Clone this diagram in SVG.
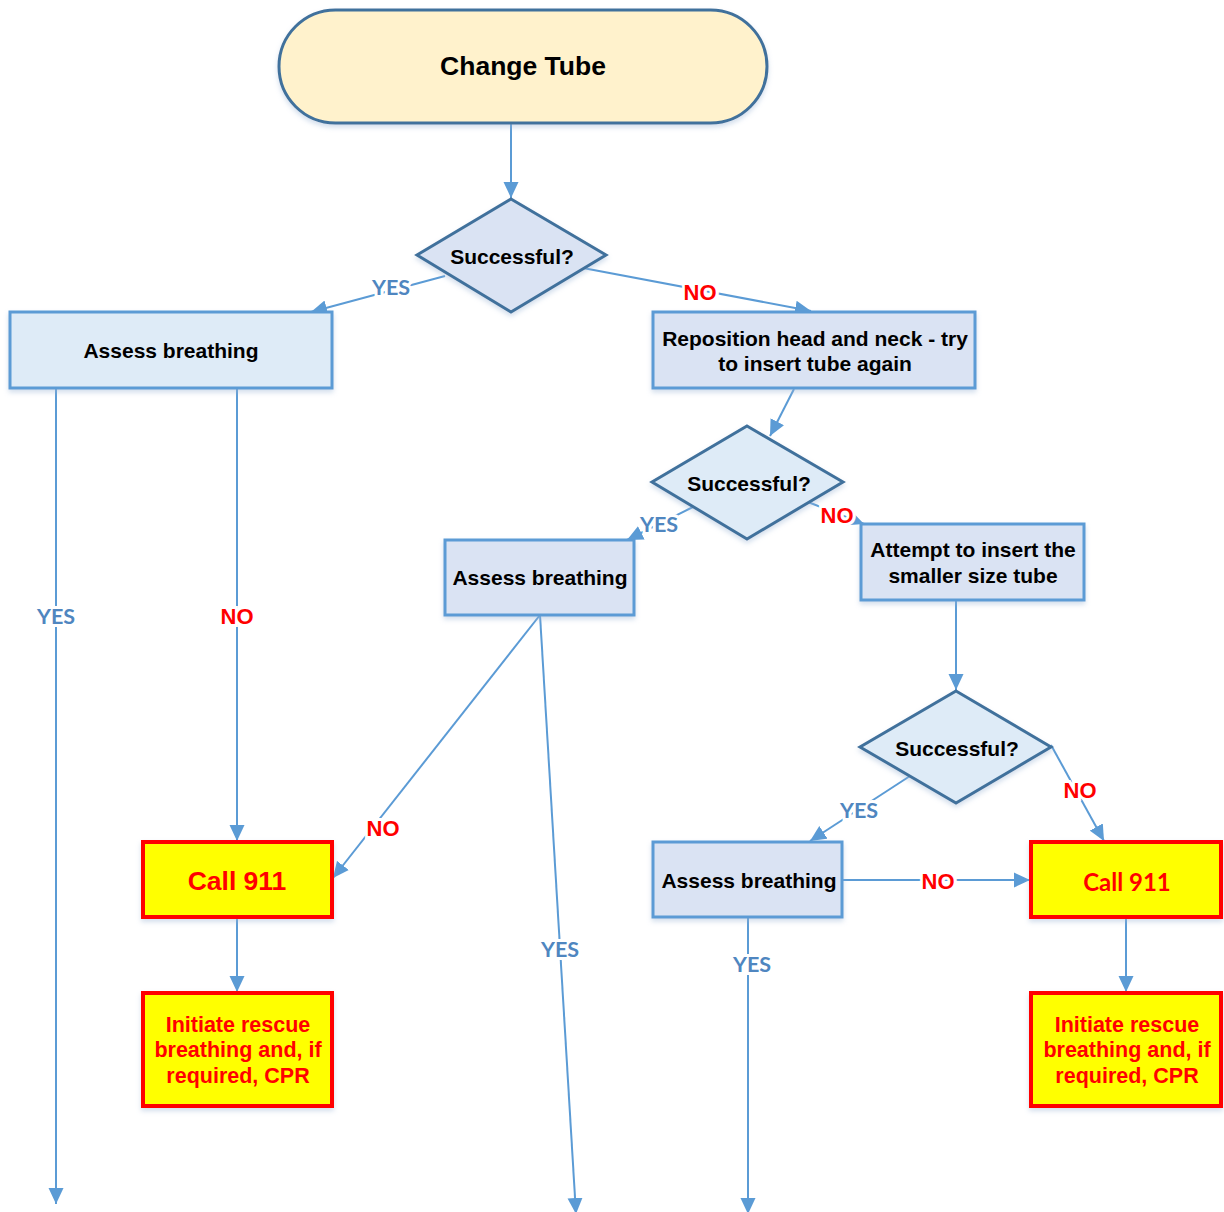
<svg xmlns="http://www.w3.org/2000/svg" width="1224" height="1212" viewBox="0 0 1224 1212">
<defs>
<marker id="ah" markerUnits="userSpaceOnUse" markerWidth="16" markerHeight="16" viewBox="0 0 16 16" refX="16" refY="8" orient="auto">
<path d="M0,0.5 L16,8 L0,15.5 Z" fill="#5B9BD5"/>
</marker>
<filter id="sh" x="-10%" y="-10%" width="120%" height="130%">
<feDropShadow dx="0" dy="3" stdDeviation="2.5" flood-color="#9DB6D6" flood-opacity="0.45"/>
</filter>
</defs>
<style>
.term{fill:#FFF2CC;stroke:#41719C;stroke-width:3}
.dia{stroke:#41719C;stroke-width:3}
.box{stroke:#5B9BD5;stroke-width:3}
.alert{fill:#FFFF00;stroke:#FF0000;stroke-width:4}
.t{font-family:"Liberation Sans",Arial,sans-serif;font-weight:bold;font-size:21px;fill:#000;text-anchor:middle;dominant-baseline:central}
.tr{font-family:"Liberation Sans",Arial,sans-serif;font-weight:bold;font-size:21.5px;fill:#FF0000;text-anchor:middle;dominant-baseline:central}
.c{fill:none;stroke:#5B9BD5;stroke-width:2}
.yes{font-family:Lato,"Open Sans",sans-serif;font-weight:bold;font-size:21.5px;fill:#4F86C0;text-anchor:middle;dominant-baseline:central;stroke:#fff;stroke-width:6;paint-order:stroke}
.no{font-family:"Liberation Sans",Arial,sans-serif;font-weight:bold;font-size:22px;fill:#FF0000;text-anchor:middle;dominant-baseline:central;stroke:#fff;stroke-width:6;paint-order:stroke}
</style>

<g id="connectors">
<line class="c" x1="511" y1="124" x2="511" y2="198" marker-end="url(#ah)"/>
<line class="c" x1="445" y1="276" x2="311" y2="312" marker-end="url(#ah)"/>
<line class="c" x1="583" y1="268" x2="811" y2="311" marker-end="url(#ah)"/>
<line class="c" x1="794" y1="389" x2="770" y2="436" marker-end="url(#ah)"/>
<line class="c" x1="693" y1="507" x2="627" y2="540" marker-end="url(#ah)"/>
<line class="c" x1="808" y1="502" x2="864" y2="524" marker-end="url(#ah)"/>
<line class="c" x1="956" y1="601" x2="956" y2="690" marker-end="url(#ah)"/>
<line class="c" x1="910" y1="776" x2="810" y2="841" marker-end="url(#ah)"/>
<line class="c" x1="1051" y1="745" x2="1104" y2="841" marker-end="url(#ah)"/>
<line class="c" x1="843" y1="880" x2="1030" y2="880" marker-end="url(#ah)"/>
<line class="c" x1="1126" y1="918" x2="1126" y2="992" marker-end="url(#ah)"/>
<line class="c" x1="237" y1="918" x2="237" y2="992" marker-end="url(#ah)"/>
<line class="c" x1="56" y1="389" x2="56" y2="1204" marker-end="url(#ah)"/>
<line class="c" x1="237" y1="389" x2="237" y2="841" marker-end="url(#ah)"/>
<line class="c" x1="540" y1="615" x2="333" y2="878" marker-end="url(#ah)"/>
<line class="c" x1="540" y1="615" x2="576" y2="1214" marker-end="url(#ah)"/>
<line class="c" x1="748" y1="918" x2="748" y2="1214" marker-end="url(#ah)"/>
<text class="yes" x="391" y="287">YES</text>
<text class="no" x="700" y="292">NO</text>
<text class="yes" x="659" y="524">YES</text>
<text class="no" x="837" y="515">NO</text>
<text class="yes" x="859" y="810">YES</text>
<text class="no" x="1080" y="790">NO</text>
<text class="no" x="938" y="881">NO</text>
<text class="yes" x="56" y="616">YES</text>
<text class="no" x="237" y="616">NO</text>
<text class="no" x="383" y="828">NO</text>
<text class="yes" x="560" y="949">YES</text>
<text class="yes" x="752" y="964">YES</text>
</g>

<g id="change-tube">
<rect class="term" x="279" y="10" width="488" height="113" rx="56.5" filter="url(#sh)"/>
<text class="t" x="523" y="66" style="font-size:26.5px">Change Tube</text>
</g>

<g id="decision-1">
<polygon class="dia" points="511,199 606,255 511,312 417,255" fill="#DAE3F3" filter="url(#sh)"/>
<text class="t" x="512" y="256">Successful?</text>
</g>

<g id="assess-1">
<rect class="box" x="10" y="312" width="322" height="76" fill="#DEEBF7" filter="url(#sh)"/>
<text class="t" x="171" y="350">Assess breathing</text>
</g>

<g id="reposition">
<rect class="box" x="653" y="312" width="322" height="76" fill="#DAE3F3" filter="url(#sh)"/>
<text class="t" x="815" y="338">Reposition head and neck - try</text>
<text class="t" x="815" y="363">to insert tube again</text>
</g>

<g id="decision-2">
<polygon class="dia" points="747,426 843,482 747,539 652,482" fill="#DEEBF7" filter="url(#sh)"/>
<text class="t" x="749" y="483">Successful?</text>
</g>

<g id="assess-2">
<rect class="box" x="445" y="540" width="189" height="75" fill="#DAE3F3" filter="url(#sh)"/>
<text class="t" x="540" y="577">Assess breathing</text>
</g>

<g id="attempt-smaller">
<rect class="box" x="861" y="524" width="223" height="76" fill="#DAE3F3" filter="url(#sh)"/>
<text class="t" x="973" y="549">Attempt to insert the</text>
<text class="t" x="973" y="575">smaller size tube</text>
</g>

<g id="decision-3">
<polygon class="dia" points="956,691 1051,747 956,803 860,747" fill="#DEEBF7" filter="url(#sh)"/>
<text class="t" x="957" y="748">Successful?</text>
</g>

<g id="assess-3">
<rect class="box" x="653" y="842" width="189" height="75" fill="#DAE3F3" filter="url(#sh)"/>
<text class="t" x="749" y="880">Assess breathing</text>
</g>

<g id="call-911-left">
<rect class="alert" x="143" y="842" width="189" height="75" filter="url(#sh)"/>
<text class="tr" x="237" y="881" style="font-size:26.5px">Call 911</text>
</g>

<g id="rescue-left">
<rect class="alert" x="143" y="993" width="189" height="113" filter="url(#sh)"/>
<text class="tr" x="238" y="1025">Initiate rescue</text>
<text class="tr" x="238" y="1050">breathing and, if</text>
<text class="tr" x="238" y="1076">required, CPR</text>
</g>

<g id="call-911-right">
<rect class="alert" x="1031" y="842" width="190" height="75" filter="url(#sh)"/>
<text class="tr" x="1127" y="881" style="font-family:Lato,'Open Sans',sans-serif;font-size:24px">Call 911</text>
</g>

<g id="rescue-right">
<rect class="alert" x="1031" y="993" width="190" height="113" filter="url(#sh)"/>
<text class="tr" x="1127" y="1025">Initiate rescue</text>
<text class="tr" x="1127" y="1050">breathing and, if</text>
<text class="tr" x="1127" y="1076">required, CPR</text>
</g>
</svg>
